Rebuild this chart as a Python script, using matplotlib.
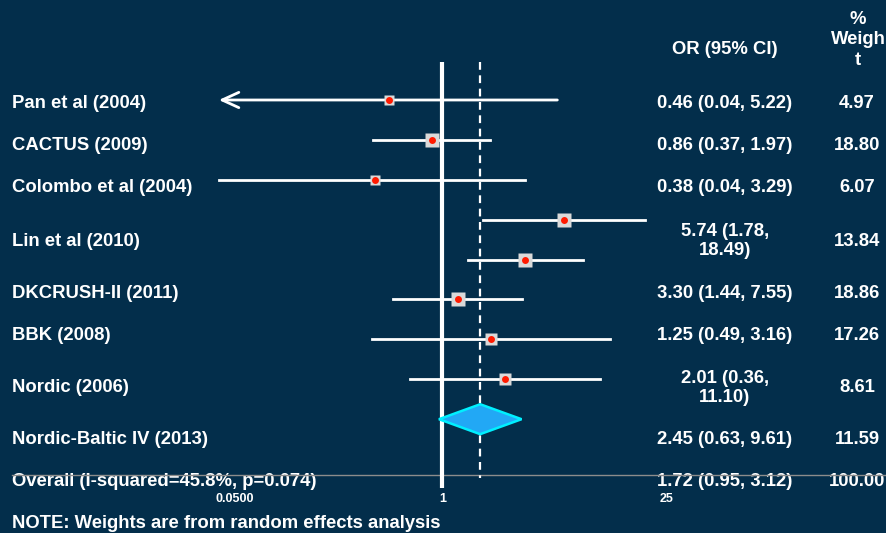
import matplotlib.pyplot as plt
from matplotlib.patches import Polygon
import numpy as np

plt.rcParams['font.family'] = ['Liberation Sans', 'DejaVu Sans']
plt.rcParams['font.weight'] = 'bold'

# study data (odds ratio, 95% CI, % weight)
studies = ['Pan et al (2004)', 'CACTUS (2009)', 'Colombo et al (2004)', 'Lin et al (2010)',
           'DKCRUSH-II (2011)', 'BBK (2008)', 'Nordic (2006)', 'Nordic-Baltic IV (2013)']
odds = [0.46, 0.86, 0.38, 5.74, 3.30, 1.25, 2.01, 2.45]
ci_low = [0.04, 0.37, 0.04, 1.78, 1.44, 0.49, 0.36, 0.63]
ci_high = [5.22, 1.97, 3.29, 18.49, 7.55, 3.16, 11.10, 9.61]
weights = [4.97, 18.80, 6.07, 13.84, 18.86, 17.26, 8.61, 11.59]
or_text = ['0.46 (0.04, 5.22)', '0.86 (0.37, 1.97)', '0.38 (0.04, 3.29)', '5.74 (1.78,\n18.49)',
           '3.30 (1.44, 7.55)', '1.25 (0.49, 3.16)', '2.01 (0.36,\n11.10)', '2.45 (0.63, 9.61)']
weight_text = ['4.97', '18.80', '6.07', '13.84', '18.86', '17.26', '8.61', '11.59']

overall_label = 'Overall (I-squared=45.8%, p=0.074)'
overall_or, overall_lo, overall_hi = 1.72, 0.95, 3.12
overall_text = '1.72 (0.95, 3.12)'
overall_weight = '100.00'

ticks = [0.05, 1, 25]
tick_labels = ['0.0500', '1', '25']

bg = '#032e4b'
W, H = 887, 533
fig = plt.figure(figsize=(W / 100, H / 100), dpi=100, facecolor=bg)

# text layer in pixel units
tx = fig.add_axes([0, 0, 1, 1])
tx.set_xlim(0, W)
tx.set_ylim(H, 0)
tx.axis('off')

# plot panel: log odds-ratio scale, one row per study
left, right, top, bottom = 200, 700, 40, 500
ax = fig.add_axes([left / W, 1 - bottom / H, (right - left) / W, (bottom - top) / H])
ax.set_xscale('log')
px_decade, x_one = 160, 442.5
ax.set_xlim(10 ** ((left - x_one) / px_decade), 10 ** ((right - x_one) / px_decade))
row_px, row0 = 39.9, 100
ax.set_ylim((bottom - row0) / row_px, (top - row0) / row_px)
ax.axis('off')
ax.patch.set_alpha(0)

n = len(studies)
rows = np.arange(n)

# null line and overall estimate line
ax.plot([1, 1], [-0.95, n + 1.72], color='white', lw=3, zorder=2, solid_capstyle='butt')
ax.plot([overall_or, overall_or], [-0.95, n + 1.47], color='white', lw=1.6,
        ls=(0, (3.5, 2.5)), zorder=2)

for i in rows:
    if i == 0:
        ax.annotate('', xy=(ci_low[i], i), xytext=(ci_high[i], i),
                    arrowprops=dict(arrowstyle='->,head_length=1.2,head_width=0.55',
                                    color='white', lw=2, shrinkA=0, shrinkB=0), zorder=3)
    else:
        ax.plot([ci_low[i], ci_high[i]], [i, i], color='white', lw=2, zorder=3)
    side = 6 + 2 * np.sqrt(weights[i])
    ax.plot(odds[i], i, marker='s', ms=side * 0.72, color='#d9d9d9', mec='none', zorder=4)
    ax.plot(odds[i], i, marker='o', ms=5, color='#ff1a00', mec='none', zorder=5)

# pooled estimate diamond
d = n
half = 0.375
diamond = Polygon([(overall_lo, d), (overall_or, d - half), (overall_hi, d), (overall_or, d + half)],
                  closed=True, facecolor='#22a8f5', edgecolor='#00f0ff', lw=1.8, zorder=4)
ax.add_patch(diamond)

for t, lab in zip(ticks, tick_labels):
    ax.text(t, (499 - row0) / row_px, lab, color='white', fontsize=9, ha='center', va='center')

# baseline across the panel
tx.plot([12, W], [475, 475], color='#8c8c8c', lw=1, zorder=5)

# table text
label_y = [104, 145, 187, 241, 293, 335, 388, 440]
fs = 13.3
for lab, y, ort, wt in zip(studies, label_y, or_text, weight_text):
    tx.text(12, y, lab, color='white', fontsize=fs, ha='left', va='center')
    tx.text(725, y, ort, color='white', fontsize=fs, ha='center', va='center',
            multialignment='center', linespacing=1.2)
    tx.text(857, y, wt, color='white', fontsize=fs, ha='center', va='center')

tx.text(12, 482, overall_label, color='white', fontsize=fs, ha='left', va='center', zorder=3)
tx.text(725, 482, overall_text, color='white', fontsize=fs, ha='center', va='center', zorder=3)
tx.text(857, 482, overall_weight, color='white', fontsize=fs, ha='center', va='center', zorder=3)

tx.text(725, 49, 'OR (95% CI)', color='white', fontsize=fs, ha='center', va='center')
tx.text(858, 40, '%\nWeigh\nt', color='white', fontsize=fs, ha='center', va='center',
        linespacing=1.3)

tx.text(12, 523, 'NOTE: Weights are from random effects analysis', color='white',
        fontsize=fs, ha='left', va='center')

fig.savefig('out.png', dpi=100, facecolor=bg)
